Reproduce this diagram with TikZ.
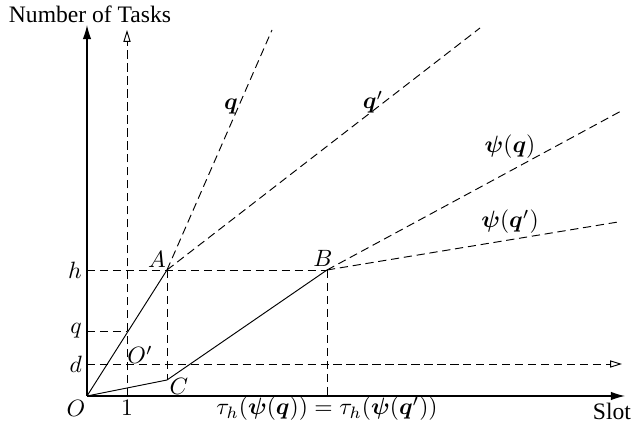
\documentclass[tikz,border=0pt]{standalone}
\usepackage{amsmath,amssymb}
\usepackage{bm}
\usepackage{fontspec}
\setmainfont{Liberation Serif}
\usetikzlibrary{arrows.meta,positioning,calc}

\begin{document}
\begin{tikzpicture}[x=0.149cm,y=0.149cm,>=Latex,
  axis/.style={line width=0.5pt,-{Latex[length=6pt,width=3.6pt]}},
  guide/.style={thin,dash pattern=on 3.5pt off 2pt},
  openarr/.style={guide,-{Triangle[open,length=5pt,width=3pt]}},
  lbl/.style={inner sep=1pt}]
  \useasboundingbox (-8.7,-3.5) rectangle (54.9,39.6);
  % points
  \coordinate (O) at (0,0);
  \coordinate (A) at (8,12.6);
  \coordinate (B) at (24,12.6);
  \coordinate (C) at (8,1.6);
  \coordinate (ytop) at (0,37.1);
  \coordinate (xend) at (53.8,0);
  \coordinate (one) at (4,0);
  \coordinate (onetop) at (4,36.6);
  \coordinate (dl) at (0,3.2);
  \coordinate (dr) at (53.5,3.2);
  \coordinate (hl) at (0,12.6);
  \coordinate (ql) at (0,6.5);
  \coordinate (qr) at (4,6.5);
  \coordinate (Bx) at (24,0);
  \coordinate (rq) at (18.5,36.6);
  \coordinate (rqq) at (39.3,36.8);
  \coordinate (rpq) at (53.6,28.6);
  \coordinate (rpqq) at (53.1,17.4);
  % axes
  \draw[axis] (O) -- (ytop);
  \draw[axis] (O) -- (xend);
  \draw[openarr] (one) -- (onetop);
  \draw[openarr] (dl) -- (dr);
  % guides
  \draw[guide] (hl) -- (B);
  \draw[guide] (ql) -- (qr);
  \draw[guide] (A) -- (C);
  \draw[guide] (B) -- (Bx);
  % rays
  \draw[guide] (A) -- (rq);
  \draw[guide] (A) -- (rqq);
  \draw[guide] (B) -- (rpq);
  \draw[guide] (B) -- (rpqq);
  % path
  \draw[thin] (O) -- (A);
  \draw[thin] (O) -- (C) -- (B);
  % labels
  \node[lbl] (ylab) at (0.3,38.2) {Number of Tasks};
  \node[lbl] (xlab) at (52.5,-1.5) {Slot};
  \node[lbl] (Olab) at (-1.1,-1.2) {$O$};
  \node[lbl] (onelab) at (4,-1.2) {$1$};
  \node[lbl] (taulab) at (24,-1.3) {$\tau_h(\bm{\psi}(\bm{q}))=\tau_h(\bm{\psi}(\bm{q}'))$};
  \node[lbl,left=1pt of hl] (hlab) {$h$};
  \node[lbl,left=1pt of ql] (qlab) {$q$};
  \node[lbl,left=1pt of dl] (dlab) {$d$};
  \node[lbl] (Alab) at (7,13.7) {$A$};
  \node[lbl] (Blab) at (23.6,13.8) {$B$};
  \node[lbl] (Clab) at (9.2,1) {$C$};
  \node[lbl] (Oplab) at (5.3,4.1) {$O'$};
  \node[lbl] (rqlab) at (14.4,28.9) {$\bm{q}$};
  \node[lbl] (rqqlab) at (28.6,29.4) {$\bm{q}'$};
  \node[lbl] (rpqlab) at (42.3,24.9) {$\bm{\psi}(\bm{q})$};
  \node[lbl] (rpqqlab) at (42.3,17.4) {$\bm{\psi}(\bm{q}')$};
\end{tikzpicture}
\end{document}
